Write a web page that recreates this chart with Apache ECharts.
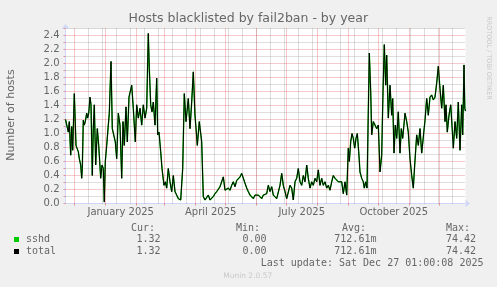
<!DOCTYPE html>
<html><head><meta charset="utf-8">
<script src="https://cdn.jsdelivr.net/npm/echarts@6/dist/echarts.min.js"></script>
<style>html,body{margin:0;padding:0;background:#f0f0f0}#c{width:497px;height:287px}</style>
</head><body><div id="c"></div>
<script>
// ---- data (day offsets since graph start) ----
const dayOffsets = [0,1.5,2.8,3.8,5.2,6.2,7.2,8.8,10.5,11.8,12.8,13.8,15.2,16.2,16.8,17.8,18.8,19.8,21.2,22.2,23.2,24.5,25.5,26.8,27.8,28.8,30.2,31.8,33.2,34.2,35.2,36.5,37.8,38.8,39.8,41.2,42.8,43.8,45.5,46.8,48.5,49.8,51.2,52.8,54.5,56.2,57.5,58.8,60.5,61.8,63.5,66.2,67.8,69.8,71.2,72.8,74.5,76.2,77.8,79.5,81.2,82.8,83.8,85.2,86.5,87.8,89.5,91.2,92.2,93.5,95.2,96.5,98.5,99.8,101.2,102.8,104.5,106.2,107.8,109.5,111.2,112.8,115.2,117.2,118.8,120.5,122.8,124.5,126.2,127.8,129.5,131.8,133.8,136.2,137.8,139.5,141.2,142.8,144.5,146.2,147.8,149.5,151.2,152.8,154.5,156.2,157.8,159.5,161.2,162.8,164.5,166.2,167.8,169.5,171.2,172.8,174.5,176.2,177.8,179.5,181.2,182.8,184.5,186.2,187.8,189.5,191.2,192.8,194.5,196.2,197.8,199.5,201.2,202.8,204.5,206.2,207.8,209.5,211.2,212.8,214.5,216.2,217.8,219.5,221.2,222.8,224.5,226.2,227.8,229.5,231.2,232.8,234.5,236.2,237.8,239.5,241.2,242.8,244.5,246.2,247.8,249.5,251.2,252.8,254.5,256.2,257.8,259.5,261.2,262.8,264.5,266.2,267.8,269.5,271.2,272.8,274.5,276.2,277.8,279.5,281.2,282.8,283.8,285.2,286.5,287.8,289.2,290.5,291.8,293.2,294.5,296.2,297.8,298.8,300.2,301.5,303.8,305.2,306.2,307.8,309.5,311.2,312.8,314.5,316.2,317.5,318.8,320.2,321.2,322.8,324.5,326.2,327.2,328.5,329.8,331.2,332.8,334.5,335.8,337.2,339.5,341.2,342.8,344.5,346.2,347.8,349.2,351.2,352.8,354.5,356.2,357.8,359.5,361.2,362.8,364.5,366.2,367.8,369.5,371.2,372.8,374.5,376.2,377.8,379.5,380.5,381.8,383.5,385.2,386.5,387.8,389.5,391.2,392.8,394.5,396.2,397.2,398.5,399.3,400];
const sshdValues = [1.20,1.22,1.02,1.17,0.69,1.10,0.76,1.57,0.83,0.81,0.74,0.64,0.55,0.36,0.50,1.19,1.12,1.17,1.29,1.22,1.29,1.52,1.41,0.40,1.07,1.41,0.55,1.07,0.83,0.60,0.36,0.55,0.50,0.02,0.60,0.83,1.12,1.29,2.03,1.07,1.07,0.88,0.64,1.29,1.12,0.36,1.17,0.83,1.38,0.88,1.52,1.69,1.36,0.88,1.41,1.22,1.36,1.12,1.41,1.22,1.36,2.43,1.93,1.41,1.31,1.45,1.12,1.79,0.98,1.02,0.74,0.50,0.26,0.31,0.22,0.50,0.31,0.17,0.40,0.17,0.12,0.07,0.05,0.50,1.57,1.17,1.50,1.07,1.45,1.88,1.26,0.83,1.17,0.88,0.10,0.05,0.07,0.12,0.05,0.07,0.10,0.14,0.17,0.19,0.24,0.22,0.38,0.19,0.17,0.22,0.19,0.26,0.31,0.24,0.33,0.31,0.38,0.43,0.45,0.29,0.22,0.17,0.12,0.10,0.07,0.12,0.10,0.12,0.10,0.07,0.12,0.10,0.14,0.26,0.17,0.24,0.12,0.14,0.07,0.05,0.26,0.43,0.26,0.17,0.07,0.05,0.26,0.22,0.05,0.31,0.36,0.50,0.31,0.26,0.40,0.31,0.55,0.36,0.22,0.31,0.26,0.36,0.31,0.48,0.26,0.36,0.26,0.31,0.22,0.26,0.19,0.31,0.40,0.36,0.38,0.31,0.33,0.31,0.14,0.31,0.12,0.79,0.60,0.88,1.00,0.93,0.79,0.93,1.00,0.74,0.45,0.36,0.31,0.22,0.31,0.22,2.15,1.60,0.98,1.17,1.12,1.07,1.12,0.45,0.69,1.60,2.27,1.69,2.12,1.22,1.69,1.26,1.50,0.72,1.12,0.93,1.31,0.72,1.07,0.93,1.29,1.17,1.02,0.64,0.40,0.22,0.55,0.98,0.83,1.07,0.72,0.72,1.19,1.50,1.26,1.52,1.55,1.48,1.52,1.72,1.96,1.64,1.36,1.69,1.17,1.41,1.02,1.26,1.41,1.12,0.79,1.17,0.93,1.45,0.76,1.41,0.98,1.98,1.36,1.32];
const totalValues = sshdValues.slice(); // identical series in the reference
const seriesNames = ['sshd', 'total'];
const seriesColors = ['#00cc00', '#000000'];
const monthLabels = ['January 2025', 'April 2025', 'July 2025', 'October 2025'];
const monthLabelDates = [[2025,0],[2025,3],[2025,6],[2025,9]];
const legendHeaders = ['Cur:', 'Min:', 'Avg:', 'Max:'];
const legendStats = [['1.32','0.00','712.61m','74.42'], ['1.32','0.00','712.61m','74.42']];
const titleText = 'Hosts blacklisted by fail2ban - by year';
const yName = 'Number of hosts';
const lastUpdate = 'Last update: Sat Dec 27 01:00:08 2025';
const footer = 'Munin 2.0.57';
const watermark = 'RRDTOOL / TOBI OETIKER';

// ---- time helpers (days since graph start) ----
const startMs = Date.UTC(2024, 10, 22);
const dayMs = 86400000;
const toDay = (y, m, d) => (Date.UTC(y, m, d || 1) - startMs) / dayMs;
const monthStarts = [];
for (let y = 2024, m = 11; ; ) {
  const off = toDay(y, m, 1);
  if (off > 400) break;
  monthStarts.push(off);
  m++; if (m > 11) { m = 0; y++; }
}
const minorLines = [];
for (let off = toDay(2024, 11, 15); off < 400; off += 14) minorLines.push(off);
const labelValues = monthLabelDates.map(([y, m]) => toDay(y, m, 1) + 15.2);

const MGRID = 'rgba(222,79,79,0.6)';
const GRID = 'rgba(143,143,143,0.6)';
const AXIS = '#CFD6F8';
const FONT = '#666666';

const chart = echarts.init(document.getElementById('c'), null, {renderer: 'canvas'});
const mono = '10px "DejaVu Sans Mono"';
const g = [];
g.push({type:'text', x:248.3, y:19, style:{text:titleText, font:'12.5px "DejaVu Sans"', fill:FONT, align:'center', verticalAlign:'middle'}});
g.push({type:'text', x:11, y:115, rotation:Math.PI/2, style:{text:yName, font:'11px "DejaVu Sans"', fill:FONT, align:'center', verticalAlign:'middle'}});
g.push({type:'text', x:488.3, y:58, rotation:-Math.PI/2, style:{text:watermark, font:'6.5px "DejaVu Sans"', fill:'#c8c8c8', align:'center', verticalAlign:'middle'}});
const hdrX = [131, 236, 342, 446];
const valX = [136.5, 242.5, 334.3, 446];
legendHeaders.forEach((h, i) => g.push({type:'text', x:hdrX[i], y:228.3, style:{text:h, font:mono, fill:FONT, align:'left', verticalAlign:'middle'}}));
const rowY = [239.3, 251.3];
seriesNames.forEach((n, r) => {
  g.push({type:'rect', shape:{x:14, y:Math.round(rowY[r]-2.5), width:5, height:5}, style:{fill:seriesColors[r]}});
  g.push({type:'text', x:26, y:rowY[r], style:{text:n, font:mono, fill:FONT, align:'left', verticalAlign:'middle'}});
  legendStats[r].forEach((s, i) => g.push({type:'text', x:valX[i], y:rowY[r], style:{text:s, font:mono, fill:FONT, align:'left', verticalAlign:'middle'}}));
});
g.push({type:'text', x:260.7, y:263.5, style:{text:lastUpdate, font:mono, fill:FONT, align:'left', verticalAlign:'middle'}});
g.push({type:'text', x:247.7, y:276, style:{text:footer, font:'7.5px "DejaVu Sans"', fill:'#c8c8c8', align:'center', verticalAlign:'middle'}});

const mk = (vals) => dayOffsets.map((d, i) => [d, vals[i]]);
const vGrid = minorLines.map(v => ({xAxis: v, lineStyle: {color: GRID, type: [1,1], width: 1}}))
  .concat(monthStarts.map(v => ({xAxis: v, lineStyle: {color: MGRID, type: [1,1], width: 1}})));

chart.setOption({
  animation: false,
  backgroundColor: '#f0f0f0',
  grid: {left:65.5, top:28.5, width:400, height:175, show:true, backgroundColor:'#ffffff', borderWidth:0, containLabel:false},
  xAxis: {
    type:'value', min:0, max:400,
    axisLine:{show:true, onZero:false, lineStyle:{color:AXIS, width:1}, symbol:['none','arrow'], symbolSize:[6,5], symbolOffset:[0,4.5]},
    axisTick:{show:true, customValues:monthStarts, length:2, lineStyle:{color:MGRID}},
    axisLabel:{customValues:labelValues, formatter:(v) => {
      let best = 0; labelValues.forEach((lv, i) => { if (Math.abs(lv - v) < Math.abs(labelValues[best] - v)) best = i; });
      return monthLabels[best];
    }, color:FONT, fontSize:10, fontFamily:'DejaVu Sans', margin:9, verticalAlign:'middle'},
    splitLine:{show:false}
  },
  yAxis: {
    type:'value', min:0, max:2.5, interval:0.1,
    axisLine:{show:true, lineStyle:{color:AXIS, width:1}, symbol:['none','arrow'], symbolSize:[6,5], symbolOffset:[0,4.5]},
    axisTick:{show:true, length:2, lineStyle:{color:MGRID}},
    axisLabel:{formatter:(v) => (Math.round(v * 10) % 2 === 0 ? v.toFixed(1) : ''), color:FONT, fontSize:10, fontFamily:'DejaVu Sans', margin:6},
    splitLine:{show:true, lineStyle:{color:[MGRID, GRID], type:[1,1], width:1}}
  },
  series: [
    {name:'grid', type:'line', data:[], z:1, silent:true,
     markLine:{silent:true, animation:false, symbol:['none','none'], label:{show:false}, emphasis:{disabled:true}, data:vGrid}},
    {name:seriesNames[0], type:'line', data:mk(sshdValues), showSymbol:false, symbol:'none', lineStyle:{color:seriesColors[0], width:1.4}, z:3},
    {name:seriesNames[1], type:'line', data:mk(totalValues), showSymbol:false, symbol:'none', lineStyle:{color:seriesColors[1], width:1}, z:5}
  ],
  graphic: g
});
</script></body></html>
